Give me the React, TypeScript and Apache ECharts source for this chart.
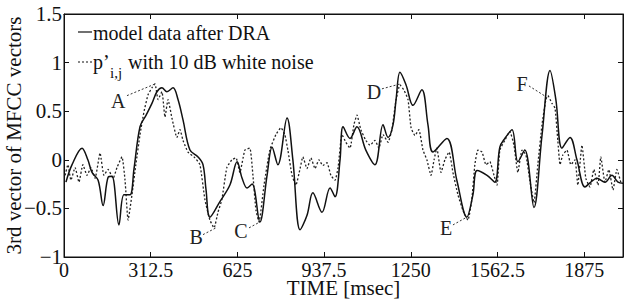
import React, { useEffect, useRef } from "react";
import * as echarts from "echarts";

const xTicks = [0, 312.5, 625, 937.5, 1250, 1562.5, 1875];

const modelX = [7, 29, 65, 86, 101, 123, 141, 159, 173, 198, 216, 238, 252, 274, 296, 317, 335, 353, 371, 393, 411, 429, 454, 483, 501, 512, 526, 562, 598, 624, 642, 660, 678, 706, 732, 750, 771, 804, 825, 851, 876, 897, 930, 959, 977, 995, 1006, 1031, 1056, 1088, 1121, 1150, 1168, 1186, 1197, 1211, 1233, 1258, 1290, 1312, 1330, 1380, 1416, 1452, 1474, 1489, 1525, 1553, 1571, 1589, 1615, 1636, 1661, 1694, 1723, 1752, 1773, 1795, 1824, 1849, 1878, 1899, 1921, 1950, 1975, 1997, 2015];
const modelY = [-0.23, -0.05, 0.12, 0.0, -0.13, -0.21, -0.47, -0.18, -0.17, -0.67, -0.36, -0.36, -0.1, 0.34, 0.46, 0.58, 0.7, 0.74, 0.7, 0.74, 0.62, 0.41, 0.1, 0.03, -0.05, -0.31, -0.59, -0.43, -0.26, -0.02, -0.19, -0.29, -0.25, -0.64, -0.16, 0.13, -0.05, 0.43, 0.0, -0.72, -0.57, -0.34, -0.54, -0.29, -0.38, 0.0, 0.34, 0.22, 0.34, 0.1, -0.05, 0.36, 0.23, 0.36, 0.62, 0.9, 0.77, 0.56, 0.72, 0.36, 0.08, 0.22, -0.21, -0.59, -0.36, -0.11, -0.16, -0.23, 0.13, 0.22, 0.31, -0.02, 0.1, -0.49, 0.25, 0.92, 0.62, 0.12, 0.23, 0.0, -0.28, -0.23, -0.19, -0.23, -0.16, -0.23, -0.24];

const noisyX = [4, 14, 25, 40, 54, 68, 83, 97, 112, 130, 144, 159, 177, 191, 209, 220, 231, 245, 259, 274, 288, 303, 317, 328, 339, 353, 364, 375, 389, 407, 418, 429, 447, 472, 490, 508, 526, 541, 555, 569, 587, 605, 620, 634, 652, 670, 681, 692, 703, 721, 742, 764, 782, 796, 807, 822, 836, 851, 861, 876, 890, 905, 919, 933, 948, 962, 977, 988, 1002, 1016, 1031, 1045, 1056, 1070, 1088, 1103, 1121, 1135, 1150, 1168, 1182, 1197, 1211, 1225, 1240, 1251, 1265, 1279, 1294, 1308, 1323, 1334, 1344, 1359, 1373, 1388, 1402, 1420, 1438, 1456, 1470, 1481, 1492, 1507, 1521, 1535, 1550, 1561, 1571, 1589, 1607, 1622, 1636, 1651, 1665, 1679, 1694, 1708, 1723, 1737, 1744, 1759, 1770, 1780, 1788, 1798, 1813, 1827, 1842, 1852, 1867, 1881, 1896, 1910, 1925, 1935, 1950, 1964, 1979, 1993, 2007];
const noisyY = [-0.16, -0.05, -0.21, -0.08, -0.23, -0.05, -0.16, -0.08, -0.19, 0.07, -0.16, -0.1, -0.19, -0.08, 0.03, -0.21, -0.62, -0.36, -0.05, 0.26, 0.49, 0.67, 0.74, 0.78, 0.62, 0.7, 0.44, 0.62, 0.43, 0.23, 0.31, 0.2, 0.08, 0.02, -0.05, -0.41, -0.62, -0.7, -0.54, -0.41, -0.08, 0.0, 0.02, -0.13, 0.1, 0.12, -0.16, -0.52, -0.64, -0.26, 0.1, 0.26, 0.33, 0.26, 0.1, -0.16, -0.26, -0.09, 0.03, -0.09, 0.02, -0.09, 0.0, -0.06, -0.03, -0.16, -0.21, -0.08, 0.26, 0.18, 0.12, 0.36, 0.46, 0.31, 0.2, 0.15, 0.2, 0.12, 0.26, 0.18, 0.31, 0.62, 0.77, 0.72, 0.62, 0.33, 0.25, 0.31, 0.1, 0.0, -0.16, 0.0, 0.12, -0.13, 0.0, 0.08, -0.13, -0.36, -0.52, -0.62, -0.41, -0.05, 0.1, 0.08, -0.05, -0.02, -0.16, -0.26, 0.1, 0.2, 0.29, 0.15, -0.13, 0.1, 0.05, -0.21, -0.44, -0.05, 0.36, 0.62, 0.66, 0.58, 0.53, 0.2, -0.05, 0.05, 0.1, -0.05, 0.0, -0.26, 0.15, -0.19, -0.28, -0.1, -0.26, 0.03, -0.23, -0.1, -0.31, -0.1, -0.23];

const annoNames = ["A", "B", "C", "D", "E", "F"];
const annoLabelX = [195, 476, 638, 1117, 1377, 1651];
const annoLabelY = [0.61, -0.79, -0.73, 0.7, -0.7, 0.78];
const annoFromX = [227, 501, 667, 1146, 1402, 1676];
const annoFromY = [0.66, -0.77, -0.7, 0.73, -0.67, 0.76];
const annoToX = [328, 548, 706, 1211, 1452, 1737];
const annoToY = [0.78, -0.7, -0.64, 0.78, -0.59, 0.65];

const FONT = "'Liberation Serif', 'Times New Roman', serif";
const INK = "#111";

export default function App() {
  const ref = useRef<HTMLDivElement>(null);
  useEffect(() => {
    if (!ref.current) return;
    const chart = echarts.init(ref.current, null, { renderer: "svg" });
    const modelData = modelX.map((x, i) => [x, modelY[i]]);
    const noisyData = noisyX.map((x, i) => [x, noisyY[i]]);
    const yFmt = (v: number) => (v < 0 ? "\u2212" + Math.abs(v) : String(v));
    const mkLine = () => ({ show: true, onZero: false, lineStyle: { color: INK, width: 1 } });
    const mkTick = () => ({ show: true, inside: true, length: 5, lineStyle: { color: INK, width: 1 } });
    chart.setOption({
      animation: false,
      backgroundColor: "#fff",
      textStyle: { fontFamily: FONT },
      grid: {
        left: 64,
        right: 1,
        top: 14,
        bottom: 45,
        containLabel: false,
        outerBoundsMode: "none",
        show: true,
        borderColor: INK,
        borderWidth: 1,
        backgroundColor: "transparent",
      },
      xAxis: [
        {
          type: "value",
          min: 0,
          max: 2015,
          interval: 312.5,
          position: "bottom",
          axisLine: mkLine(),
          axisTick: mkTick(),
          splitLine: { show: false },
          axisLabel: {
            color: INK,
            fontFamily: FONT,
            fontSize: 20,
            margin: 3,
            showMaxLabel: false,
            formatter: (v: number) => (xTicks.indexOf(v) >= 0 ? String(v) : ""),
          },
          name: "TIME [msec]",
          nameLocation: "middle",
          nameGap: 20,
          nameMoveOverlap: false,
          nameTextStyle: { color: INK, fontFamily: FONT, fontSize: 21, verticalAlign: "top" },
        },
        {
          type: "value",
          min: 0,
          max: 2015,
          interval: 312.5,
          position: "top",
          axisLine: mkLine(),
          axisTick: mkTick(),
          splitLine: { show: false },
          axisLabel: { show: false },
        },
      ],
      yAxis: [
        {
          type: "value",
          min: -1,
          max: 1.5,
          interval: 0.5,
          position: "left",
          axisLine: mkLine(),
          axisTick: mkTick(),
          splitLine: { show: false },
          axisLabel: { color: INK, fontFamily: FONT, fontSize: 21, margin: 2, formatter: yFmt },
          name: "3rd vector of MFCC vectors",
          nameLocation: "middle",
          nameGap: 40,
          nameMoveOverlap: false,
          nameTextStyle: { color: INK, fontFamily: FONT, fontSize: 21 },
        },
        {
          type: "value",
          min: -1,
          max: 1.5,
          interval: 0.5,
          position: "right",
          axisLine: mkLine(),
          axisTick: mkTick(),
          splitLine: { show: false },
          axisLabel: { show: false },
        },
      ],
      series: [
        {
          name: "noisy",
          type: "line",
          data: noisyData,
          showSymbol: false,
          symbol: "none",
          smooth: 0.15,
          lineStyle: { color: "#222", width: 1.3, type: [2, 2] },
          z: 2,
        },
        {
          name: "model",
          type: "line",
          data: modelData,
          showSymbol: false,
          symbol: "none",
          smooth: 0.35,
          lineStyle: { color: INK, width: 1.5 },
          z: 3,
          markLine: {
            silent: true,
            symbol: ["none", "none"],
            label: { show: false },
            lineStyle: { color: "#333", width: 1, type: [2, 2] },
            data: annoNames.map((n, i) => [
              { coord: [annoFromX[i], annoFromY[i]] },
              { coord: [annoToX[i], annoToY[i]] },
            ]),
          },
          markPoint: {
            silent: true,
            symbol: "circle",
            symbolSize: 0,
            label: {
              show: true,
              position: "inside",
              color: "#222",
              fontFamily: FONT,
              fontSize: 20,
              formatter: (p: any) => p.name,
            },
            data: annoNames.map((n, i) => ({ name: n, coord: [annoLabelX[i], annoLabelY[i]] })),
          },
        },
      ],
      graphic: [
        { type: "line", shape: { x1: 78, y1: 32, x2: 92, y2: 32 }, style: { stroke: INK, lineWidth: 1.2 } },
        {
          type: "text",
          x: 93,
          y: 33,
          style: { text: "model data after DRA", font: `20px ${FONT}`, fill: INK, verticalAlign: "middle" },
        },
        { type: "line", shape: { x1: 78, y1: 62, x2: 92, y2: 62 }, style: { stroke: INK, lineWidth: 1.2, lineDash: [2, 2] } },
        {
          type: "text",
          x: 93,
          y: 62,
          style: { text: "p\u2019", font: `20px ${FONT}`, fill: INK, verticalAlign: "middle" },
        },
        {
          type: "text",
          x: 110,
          y: 73,
          style: { text: "i,j", font: `15px ${FONT}`, fill: INK, verticalAlign: "middle" },
        },
        {
          type: "text",
          x: 128,
          y: 62,
          style: { text: "with 10 dB white noise", font: `20px ${FONT}`, fill: INK, verticalAlign: "middle" },
        },
      ],
    });
    return () => chart.dispose();
  }, []);
  return (
    <div
      ref={ref}
      style={{ position: "fixed", left: 0, top: 0, width: 624, height: 302, background: "#fff" }}
    />
  );
}
